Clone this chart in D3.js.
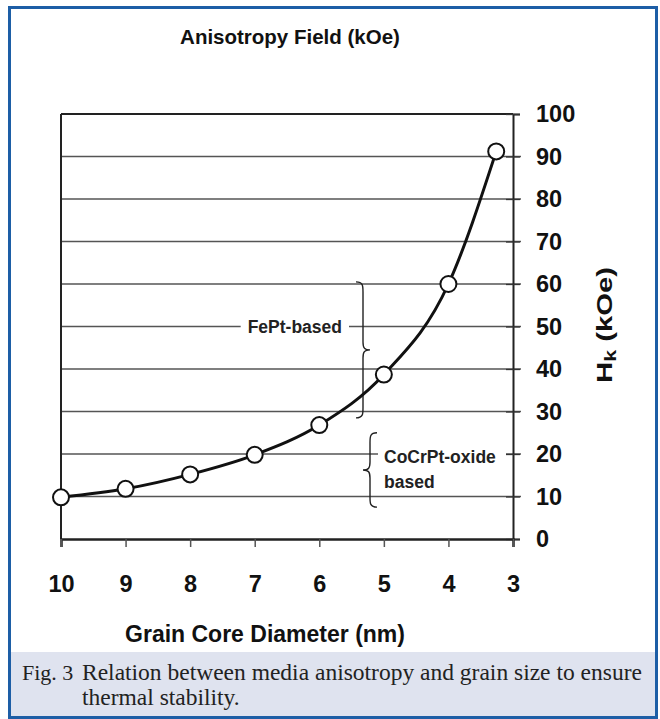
<!DOCTYPE html>
<html><head><meta charset="utf-8">
<script src="https://cdn.jsdelivr.net/npm/d3@7"></script>
<style>html,body{margin:0;padding:0;background:#fff}svg{display:block}</style>
</head><body>
<svg id="c" width="660" height="719"></svg>
<script>
// ---- data ----
const diameters = [10, 9, 8, 7, 6, 5, 4, 3.26];
const hkValues = [9.8, 11.8, 15.2, 19.8, 26.8, 38.7, 60, 91.2];
const xTicks = [10, 9, 8, 7, 6, 5, 4, 3];
const yTicks = [0, 10, 20, 30, 40, 50, 60, 70, 80, 90, 100];
const gridLevels = [10, 20, 30, 40, 50, 60, 70, 80, 90];
const titleText = "Anisotropy Field (kOe)";
const xTitle = "Grain Core Diameter (nm)";
const captionLines = ["Relation between media anisotropy and grain size to ensure", "thermal stability."];
const fept = {label: "FePt-based", from: 28.5, to: 60.5};
const cocr = {labels: ["CoCrPt-oxide", "based"], from: 7.5, to: 25};

const svg = d3.select("#c");
const x = d3.scaleLinear().domain([10, 3]).range([61, 513]);
const y = d3.scaleLinear().domain([0, 100]).range([539, 114]);

// caption band and frame
svg.append("rect").attr("x", 10).attr("y", 652).attr("width", 646).attr("height", 66).attr("fill", "#dfe3ef");
svg.append("rect").attr("x", 9.5).attr("y", 7.5).attr("width", 647).attr("height", 710)
  .attr("fill", "none").attr("stroke", "#1d5ea6").attr("stroke-width", 3);

// grid
svg.append("g").selectAll("line").data(gridLevels).join("line")
  .attr("x1", x(10)).attr("x2", x(3) + 8).attr("y1", d => y(d)).attr("y2", d => y(d))
  .attr("stroke", "#555").attr("stroke-width", 1.3);
// top frame line
svg.append("line").attr("x1", x(10)).attr("x2", x(3)).attr("y1", y(100)).attr("y2", y(100))
  .attr("stroke", "#222").attr("stroke-width", 2);
// left line
svg.append("line").attr("x1", x(10)).attr("x2", x(10)).attr("y1", y(100)).attr("y2", y(0))
  .attr("stroke", "#222").attr("stroke-width", 2);

// right y axis
const yAxis = d3.axisRight(y).tickValues(yTicks).tickSize(7).tickPadding(16).tickFormat(d3.format("d"));
const gy = svg.append("g").attr("transform", `translate(${x(3)},0)`).call(yAxis);
gy.select(".domain").attr("stroke", "#222").attr("stroke-width", 2);
gy.selectAll(".tick line").attr("stroke", "#333").attr("stroke-width", 1.3).attr("x1", -7);
gy.selectAll(".tick text").attr("font-family", "Liberation Sans, Arial, sans-serif")
  .attr("font-weight", "bold").attr("font-size", 23.5).attr("fill", "#111");

// bottom x axis
const xAxis = d3.axisBottom(x).tickValues(xTicks).tickSize(8).tickPadding(28).tickFormat(d3.format("d"));
const gx = svg.append("g").attr("transform", `translate(0,${y(0)})`).call(xAxis);
gx.select(".domain").attr("stroke", "#222").attr("stroke-width", 2.5);
gx.selectAll(".tick line").attr("stroke", "#555").attr("stroke-width", 1.5);
gx.selectAll(".tick text").attr("font-family", "Liberation Sans, Arial, sans-serif")
  .attr("font-weight", "bold").attr("font-size", 23.5).attr("fill", "#111");

// brace helper (vertical curly brace)
function brace(xp, y1, y2, dir) { // dir -1 tip to left, +1 tip to right
  const w = 7 * dir, ym = (y1 + y2) / 2;
  return `M${xp + w},${y1} C${xp},${y1} ${xp},${y1 + 4} ${xp},${y1 + 10} L${xp},${ym - 8} C${xp},${ym - 2} ${xp - w * 0.2},${ym} ${xp - w},${ym}` +
         ` M${xp - w},${ym} C${xp - w * 0.2},${ym} ${xp},${ym + 2} ${xp},${ym + 8} L${xp},${y2 - 10} C${xp},${y2 - 4} ${xp},${y2} ${xp + w},${y2}`;
}

const lblFont = "Liberation Sans, Arial, sans-serif";
// FePt label
const fg = svg.append("g");
const fbg = fg.append("rect").attr("fill", "#fff");
const ft = fg.append("text").attr("x", 342).attr("y", y(50)).attr("text-anchor", "end").attr("dy", "0.35em")
  .attr("font-family", lblFont).attr("font-weight", "bold").attr("font-size", 17.5).attr("fill", "#222").text(fept.label);
const fb = ft.node().getBBox();
fbg.attr("x", fb.x - 7).attr("y", fb.y).attr("width", fb.width + 14).attr("height", fb.height);
svg.append("path").attr("d", brace(363, y(fept.to), y(fept.from), -1)).attr("fill", "none").attr("stroke", "#222").attr("stroke-width", 1.4);

// CoCrPt label
const cg = svg.append("g");
cg.append("rect").attr("x", 378).attr("y", y(cocr.to) - 1).attr("width", 128).attr("height", y(cocr.from) - y(cocr.to) - 12).attr("fill", "#fff");
cocr.labels.forEach((t, i) => {
  cg.append("text").attr("x", 384).attr("y", y(20) + 3 + i * 25).attr("dy", "0.35em")
    .attr("font-family", lblFont).attr("font-weight", "bold").attr("font-size", 17.5).attr("fill", "#222").text(t);
});
svg.append("path").attr("d", brace(370, y(cocr.to), y(cocr.from), 1)).attr("fill", "none").attr("stroke", "#222").attr("stroke-width", 1.4);

// curve
const pts = diameters.map((d, i) => [d, hkValues[i]]);
const line = d3.line().x(d => x(d[0])).y(d => y(d[1])).curve(d3.curveMonotoneX);
svg.append("path").attr("d", line(pts)).attr("fill", "none").attr("stroke", "#111").attr("stroke-width", 3);
svg.append("g").selectAll("circle").data(pts).join("circle")
  .attr("cx", d => x(d[0])).attr("cy", d => y(d[1])).attr("r", 8)
  .attr("fill", "#fff").attr("stroke", "#111").attr("stroke-width", 2);

// titles
svg.append("text").attr("x", 290).attr("y", 44).attr("text-anchor", "middle")
  .attr("font-family", lblFont).attr("font-weight", "bold").attr("font-size", 20.5).attr("fill", "#111").text(titleText);
svg.append("text").attr("x", 265).attr("y", 642).attr("text-anchor", "middle")
  .attr("font-family", lblFont).attr("font-weight", "bold").attr("font-size", 23).attr("fill", "#111").text(xTitle);
const yl = svg.append("text").attr("transform", `translate(612,${325}) rotate(-90)`).attr("text-anchor", "middle")
  .attr("font-family", lblFont).attr("font-weight", "bold").attr("font-size", 22).attr("fill", "#111")
  .attr("textLength", 116).attr("lengthAdjust", "spacingAndGlyphs");
yl.append("tspan").text("H");
yl.append("tspan").attr("font-size", 16).attr("dy", 4).text("k");
yl.append("tspan").attr("dy", -4).text(" (kOe)");

// caption
const capFont = "Liberation Serif, Times New Roman, serif";
svg.append("text").attr("x", 22).attr("y", 680).attr("font-family", capFont).attr("font-size", 22).attr("fill", "#222").text("Fig. 3");
captionLines.forEach((t, i) => {
  svg.append("text").attr("x", 82).attr("y", 680 + i * 25).attr("font-family", capFont).attr("font-size", 23.5).attr("fill", "#222").text(t);
});
</script>
</body></html>
